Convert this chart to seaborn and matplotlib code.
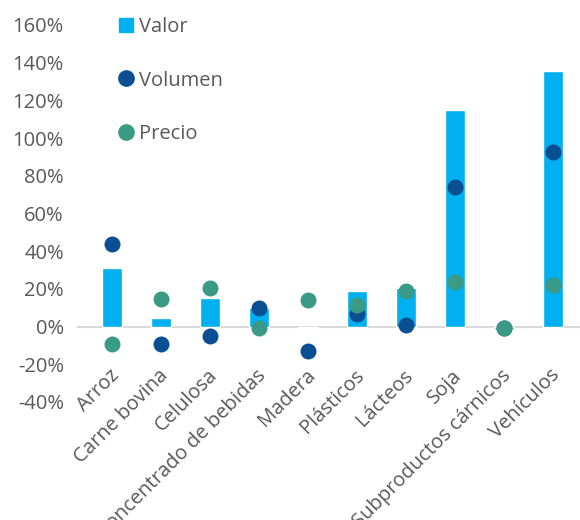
import pandas as pd
import matplotlib
matplotlib.use("Agg")
import matplotlib.pyplot as plt
from matplotlib.lines import Line2D
from matplotlib.transforms import ScaledTranslation
import seaborn as sns

# Data (% change)
productos = ["Arroz", "Carne bovina", "Celulosa", "Concentrado de bebidas", "Madera",
             "Plásticos", "Lácteos", "Soja", "Subproductos cárnicos", "Vehículos"]
valor = [31, 4.3, 15.4, 9.6, -1.0, 19, 20.7, 115, -1.5, 135.6]
volumen = [44, -9, -5, 9.6, -13, 6.5, 1, 74, -1, 92.5]
precio = [-9.5, 14.4, 20.7, -0.5, 14, 11.7, 19, 23.4, -1, 22.3]
yticks = [-40, -20, 0, 20, 40, 60, 80, 100, 120, 140, 160]

c_valor = "#00B0F0"
c_vol = "#0B4F93"
c_pre = "#3A9A85"
grey = "#595959"

sns.set_style("white")
plt.rcParams["font.family"] = ["Open Sans", "DejaVu Sans"]
plt.rcParams["axes.unicode_minus"] = False

df = pd.DataFrame({"producto": productos, "valor": valor,
                   "volumen": volumen, "precio": precio})

fig = plt.figure(figsize=(5.8, 5.2), dpi=100)
ax = fig.add_axes([0.134, 0.227, 0.866, 0.725])

sns.barplot(data=df, x="producto", y="valor", color=c_valor, width=0.4,
            saturation=1, ax=ax, zorder=2)
sns.stripplot(data=df, x="producto", y="volumen", color=c_vol, jitter=False,
              size=11.5, linewidth=0, ax=ax, zorder=3)
sns.stripplot(data=df, x="producto", y="precio", color=c_pre, jitter=False,
              size=11.5, linewidth=0, ax=ax, zorder=4)

for s in ax.spines.values():
    s.set_visible(False)
# category axis crosses at zero (set before tick labels, it resets them)
ax.spines["bottom"].set_visible(True)
ax.spines["bottom"].set_position(("data", 0))
ax.spines["bottom"].set_color("#D9D9D9")
ax.spines["bottom"].set_linewidth(1.5)
ax.spines["bottom"].set_zorder(1)

ax.set_xlim(-0.7, 9.55)
ax.set_ylim(-40, 160)
ax.set_yticks(yticks)
ax.set_yticklabels([f"{t}%" for t in yticks], color=grey, fontsize=14.5)
ax.set_xticks(range(len(productos)))
ax.set_xticklabels(productos, rotation=45, ha="right", rotation_mode="anchor",
                   color=grey, fontsize=14.5)
ax.tick_params(axis="both", length=0)
ax.tick_params(axis="x", pad=28)
ax.tick_params(axis="y", pad=10)
ax.set_xlabel("")
ax.set_ylabel("")
shift = ScaledTranslation(-3 / 100, 0, fig.dpi_scale_trans)
for lab in ax.get_xticklabels():
    lab.set_transform(lab.get_transform() + shift)

handles = [
    Line2D([], [], marker="s", color=c_valor, linestyle="none", markersize=10),
    Line2D([], [], marker="o", color=c_vol, linestyle="none", markersize=11),
    Line2D([], [], marker="o", color=c_pre, linestyle="none", markersize=11),
]
ax.legend(handles, ["Valor", "Volumen", "Precio"], loc="upper left",
          bbox_to_anchor=(0.035, 1.07), frameon=False, fontsize=14.5,
          labelcolor=grey, labelspacing=1.68, handletextpad=0.05,
          handlelength=1.2)

fig.savefig("out.png", dpi=100)
